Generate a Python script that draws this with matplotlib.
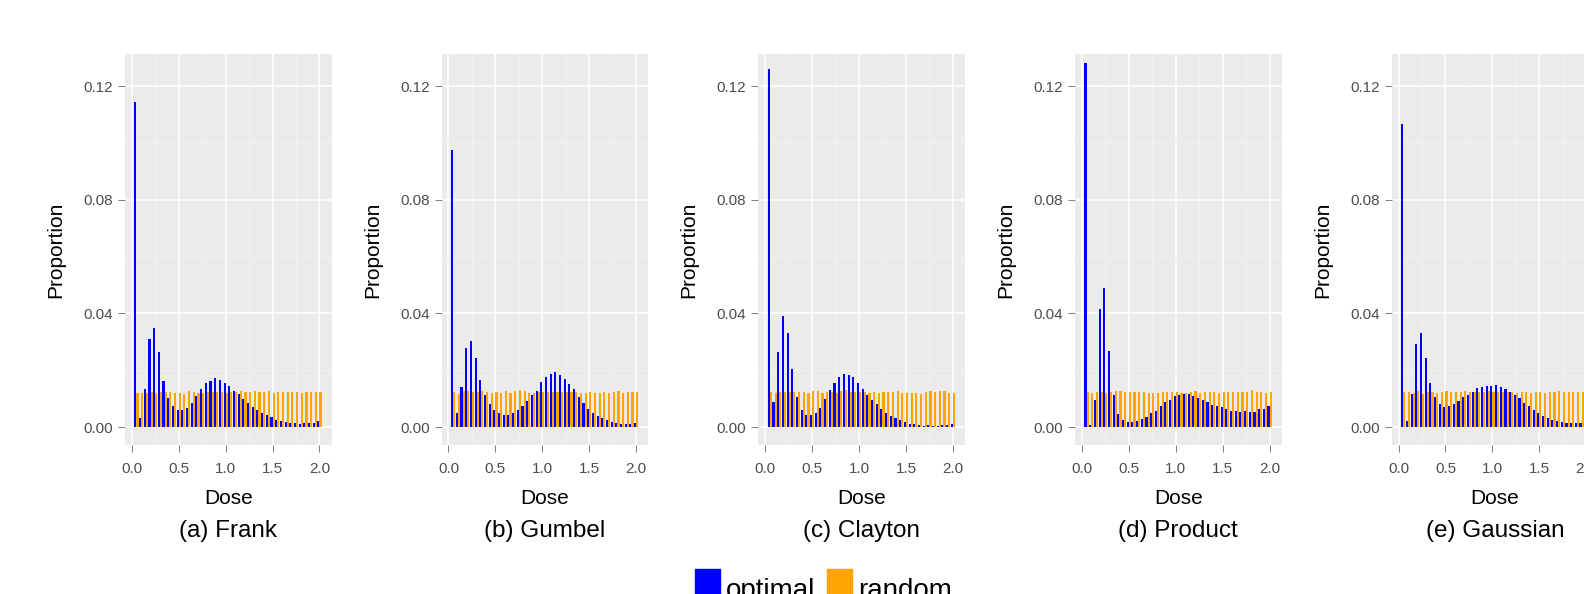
import numpy as np
import matplotlib.pyplot as plt
from matplotlib.patches import Patch, Rectangle
from matplotlib.legend_handler import HandlerPatch

plt.rcParams['font.family'] = ['Liberation Sans', 'DejaVu Sans']

doses = [round(0.05 * k, 2) for k in range(1, 41)]

titles = ["(a) Frank", "(b) Gumbel", "(c) Clayton", "(d) Product", "(e) Gaussian"]

frank_opt = [0.1144, 0.0033, 0.0135, 0.0311, 0.0350, 0.0265, 0.0163, 0.0103, 0.0075, 0.0061,
             0.0061, 0.0068, 0.0086, 0.0110, 0.0135, 0.0156, 0.0163, 0.0173, 0.0166, 0.0156,
             0.0145, 0.0128, 0.0117, 0.0100, 0.0086, 0.0071, 0.0061, 0.0050, 0.0043, 0.0036,
             0.0026, 0.0022, 0.0019, 0.0015, 0.0015, 0.0012, 0.0015, 0.0015, 0.0015, 0.0022]
frank_rnd = [0.0121, 0.0121, 0.0121, 0.0124, 0.0121, 0.0124, 0.0124, 0.0124, 0.0121, 0.0121,
             0.0117, 0.0128, 0.0124, 0.0121, 0.0121, 0.0124, 0.0124, 0.0124, 0.0124, 0.0121,
             0.0124, 0.0124, 0.0128, 0.0124, 0.0124, 0.0128, 0.0124, 0.0124, 0.0128, 0.0121,
             0.0124, 0.0124, 0.0124, 0.0124, 0.0124, 0.0121, 0.0124, 0.0124, 0.0124, 0.0124]

gumbel_opt = [0.0975, 0.0050, 0.0142, 0.0279, 0.0304, 0.0244, 0.0166, 0.0114, 0.0082, 0.0061,
              0.0050, 0.0043, 0.0043, 0.0050, 0.0061, 0.0075, 0.0093, 0.0114, 0.0128, 0.0159,
              0.0177, 0.0188, 0.0195, 0.0184, 0.0170, 0.0152, 0.0135, 0.0107, 0.0086, 0.0064,
              0.0050, 0.0040, 0.0033, 0.0026, 0.0019, 0.0015, 0.0012, 0.0012, 0.0012, 0.0015]
gumbel_rnd = [0.0124, 0.0117, 0.0128, 0.0128, 0.0124, 0.0124, 0.0128, 0.0124, 0.0121, 0.0124,
              0.0121, 0.0128, 0.0121, 0.0128, 0.0131, 0.0128, 0.0121, 0.0121, 0.0124, 0.0124,
              0.0124, 0.0124, 0.0124, 0.0124, 0.0124, 0.0124, 0.0124, 0.0121, 0.0121, 0.0124,
              0.0121, 0.0121, 0.0124, 0.0121, 0.0124, 0.0128, 0.0121, 0.0124, 0.0124, 0.0124]

clayton_opt = [0.1260, 0.0089, 0.0265, 0.0391, 0.0332, 0.0205, 0.0107, 0.0061, 0.0043, 0.0043,
               0.0050, 0.0068, 0.0100, 0.0131, 0.0156, 0.0177, 0.0188, 0.0184, 0.0177, 0.0156,
               0.0135, 0.0114, 0.0096, 0.0082, 0.0064, 0.0050, 0.0040, 0.0033, 0.0026, 0.0019,
               0.0012, 0.0012, 0.0008, 0.0005, 0.0008, 0.0005, 0.0005, 0.0008, 0.0008, 0.0012]
clayton_rnd = [0.0124, 0.0121, 0.0124, 0.0124, 0.0124, 0.0124, 0.0124, 0.0124, 0.0121, 0.0128,
               0.0128, 0.0121, 0.0124, 0.0124, 0.0121, 0.0128, 0.0131, 0.0124, 0.0124, 0.0124,
               0.0124, 0.0121, 0.0124, 0.0121, 0.0124, 0.0124, 0.0124, 0.0128, 0.0121, 0.0121,
               0.0121, 0.0121, 0.0117, 0.0124, 0.0128, 0.0124, 0.0128, 0.0128, 0.0121, 0.0121]

product_opt = [0.1282, 0.0008, 0.0096, 0.0416, 0.0490, 0.0268, 0.0114, 0.0047, 0.0026, 0.0019,
               0.0019, 0.0022, 0.0029, 0.0036, 0.0050, 0.0057, 0.0075, 0.0089, 0.0096, 0.0110,
               0.0114, 0.0117, 0.0117, 0.0110, 0.0103, 0.0096, 0.0089, 0.0079, 0.0075, 0.0071,
               0.0064, 0.0057, 0.0057, 0.0054, 0.0057, 0.0054, 0.0054, 0.0064, 0.0064, 0.0075]
product_rnd = [0.0124, 0.0121, 0.0124, 0.0124, 0.0121, 0.0124, 0.0128, 0.0128, 0.0124, 0.0124,
               0.0124, 0.0124, 0.0124, 0.0121, 0.0121, 0.0121, 0.0124, 0.0124, 0.0124, 0.0124,
               0.0121, 0.0121, 0.0124, 0.0128, 0.0121, 0.0124, 0.0124, 0.0124, 0.0121, 0.0124,
               0.0124, 0.0124, 0.0124, 0.0124, 0.0124, 0.0131, 0.0124, 0.0124, 0.0121, 0.0124]

gauss_opt = [0.1066, 0.0022, 0.0117, 0.0293, 0.0332, 0.0244, 0.0156, 0.0107, 0.0082, 0.0071,
             0.0075, 0.0082, 0.0093, 0.0107, 0.0114, 0.0124, 0.0138, 0.0142, 0.0145, 0.0145,
             0.0149, 0.0142, 0.0135, 0.0124, 0.0114, 0.0103, 0.0086, 0.0075, 0.0061, 0.0050,
             0.0040, 0.0033, 0.0026, 0.0022, 0.0019, 0.0015, 0.0015, 0.0015, 0.0015, 0.0015]
gauss_rnd = [0.0124, 0.0124, 0.0121, 0.0128, 0.0117, 0.0124, 0.0124, 0.0121, 0.0124, 0.0128,
             0.0124, 0.0124, 0.0124, 0.0128, 0.0124, 0.0124, 0.0124, 0.0124, 0.0128, 0.0124,
             0.0124, 0.0124, 0.0124, 0.0124, 0.0121, 0.0124, 0.0124, 0.0121, 0.0124, 0.0124,
             0.0121, 0.0124, 0.0124, 0.0128, 0.0124, 0.0124, 0.0124, 0.0124, 0.0124, 0.0124]

optimal = [frank_opt, gumbel_opt, clayton_opt, product_opt, gauss_opt]
random_ = [frank_rnd, gumbel_rnd, clayton_rnd, product_rnd, gauss_rnd]

W, H = 1584, 594
fig = plt.figure(figsize=(W / 100, H / 100), dpi=100)

x = np.array(doses)
bw = 0.0225  # dodged bar width (0.9 * 0.05 / 2)

for i in range(5):
    left = 125 + 316.7 * i
    ax = fig.add_axes([left / W, (H - 445) / H, 206.5 / W, 391 / H])
    ax.set_facecolor('#EBEBEB')
    ax.set_axisbelow(True)
    ax.bar(x - bw / 2, optimal[i], width=bw, color='blue', linewidth=0)
    ax.bar(x + bw / 2, random_[i], width=bw, color='orange', linewidth=0)

    ax.set_xlim(-0.072, 2.128)
    ax.set_ylim(-0.0063, 0.1313)
    ax.set_xticks([0, 0.5, 1.0, 1.5, 2.0])
    ax.set_xticklabels(['0.0', '0.5', '1.0', '1.5', '2.0'])
    ax.set_yticks([0, 0.04, 0.08, 0.12])
    ax.set_yticklabels(['0.00', '0.04', '0.08', '0.12'])
    ax.set_xticks([0.25, 0.75, 1.25, 1.75], minor=True)
    ax.set_yticks([0.02, 0.06, 0.10], minor=True)
    ax.grid(which='major', color='white', linewidth=1.1)
    ax.grid(which='minor', color='#F5F5F5', linewidth=0.5)
    ax.tick_params(which='major', length=5, width=0.7, color='#7F7F7F',
                   labelcolor='#4D4D4D', labelsize=11, pad=3.6)
    ax.tick_params(axis='x', which='major', pad=7.5)
    ax.tick_params(which='minor', length=0)
    for s in ax.spines.values():
        s.set_visible(False)

    ax.set_ylabel('Proportion', fontsize=15)
    ax.yaxis.set_label_coords(-0.29, 0.5)
    ax.set_xlabel('Dose', fontsize=15, va='baseline')
    ax.xaxis.set_label_coords(0.5, -0.152)
    ax.text(0.5, -0.235, titles[i], transform=ax.transAxes, ha='center', va='baseline', fontsize=17.5)


def square_key(legend, orig_handle, xdescent, ydescent, width, height, fontsize):
    return Rectangle((-xdescent, 0.15 * fontsize), width, width)


handles = [Patch(color='blue'), Patch(color='orange')]
fig.legend(handles, ['optimal', 'random'], loc='lower left', bbox_to_anchor=(695 / W, -0.0172),
           ncol=2, frameon=False, fontsize=20, handlelength=0.9,
           handletextpad=0.2, columnspacing=0.45, borderpad=0, borderaxespad=0,
           handler_map={Patch: HandlerPatch(patch_func=square_key)})

fig.savefig('out.png', dpi=100)
